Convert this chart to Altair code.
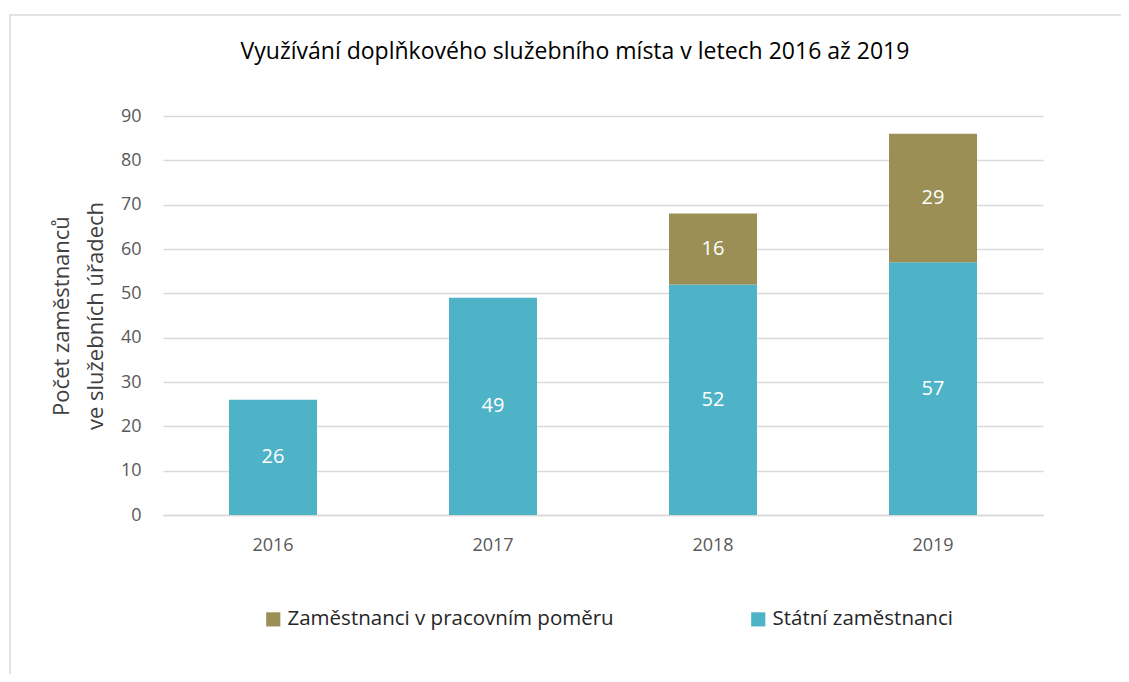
import altair as alt
import pandas as pd

title_text = ["Využívání doplňkového služebního místa v letech 2016 až 2019"]
years = ["2016", "2017", "2018", "2019"]
statni = [26, 49, 52, 57]
pracovni = [None, None, 16, 29]
series_names = ["Zaměstnanci v pracovním poměru", "Státní zaměstnanci"]
colors = ["#9b8f55", "#4fb3c8"]

rows = []
for y, s, p in zip(years, statni, pracovni):
    rows.append({"year": y, "series": series_names[1], "value": s, "ord": 0})
    if p is not None:
        rows.append({"year": y, "series": series_names[0], "value": p, "ord": 1})
df = pd.DataFrame(rows)

FONT = "Open Sans"

base = alt.Chart(df).transform_stack(
    stack="value", as_=["y0", "y1"], groupby=["year"],
    sort=[alt.SortField("ord", order="ascending")]
)

xenc = alt.X("year:N", sort=years, title=None,
             scale=alt.Scale(paddingInner=0.6, paddingOuter=0.3),
             axis=alt.Axis(labelAngle=0, labelFontSize=18, labelColor="#595959",
                           labelFont=FONT, ticks=False, labelPadding=21,
                           domainColor="#d9d9d9", domainWidth=1.5))

bars = base.mark_bar().encode(
    x=xenc,
    y=alt.Y("y0:Q", scale=alt.Scale(domain=[0, 90]),
            title=["Počet zaměstnanců", "ve služebních úřadech"],
            axis=alt.Axis(values=list(range(0, 91, 10)), labelFontSize=18,
                          labelColor="#595959", labelFont=FONT, ticks=False,
                          domain=False, labelPadding=22, gridColor="#d9d9d9",
                          gridWidth=1.5, titleFont=FONT, titleFontSize=22,
                          titleFontWeight="normal", titleColor="#404040",
                          titlePadding=13, titleLineHeight=34)),
    y2="y1:Q",
    color=alt.Color("series:N",
                    scale=alt.Scale(domain=series_names, range=colors),
                    legend=alt.Legend(title=None, orient="none", direction="horizontal",
                                      legendX=100, legendY=493,
                                      symbolType="square", symbolSize=200,
                                      symbolStrokeWidth=0, labelLimit=500,
                                      labelFontSize=20.5, labelFont=FONT,
                                      labelColor="#262626", columnPadding=134,
                                      labelOffset=4)),
)

text = base.transform_calculate(mid="(datum.y0 + datum.y1) / 2").mark_text(
    color="white", fontSize=20, font=FONT
).encode(x=alt.X("year:N", sort=years), y="mid:Q", text="value:Q")

title = alt.Chart(pd.DataFrame({"t": title_text})).mark_text(
    font=FONT, fontSize=23, color="#000000", align="center", baseline="middle"
).encode(x=alt.value(412), y=alt.value(-64), text="t:N")

border = alt.Chart(pd.DataFrame({"a": [0]})).mark_rect(
    fill=None, stroke="#d9d9d9", strokeWidth=1.5
).encode(x=alt.value(-153), x2=alt.value(1200), y=alt.value(-101), y2=alt.value(800))

chart = alt.layer(border, bars, text, title).properties(
    width=880, height=399,
    autosize=alt.AutoSizeParams(type="none"),
    padding={"left": 155, "top": 108, "right": 78, "bottom": 159},
).configure_view(stroke=None)

chart.save("out.html", embed_options={"renderer": "svg", "actions": False})
